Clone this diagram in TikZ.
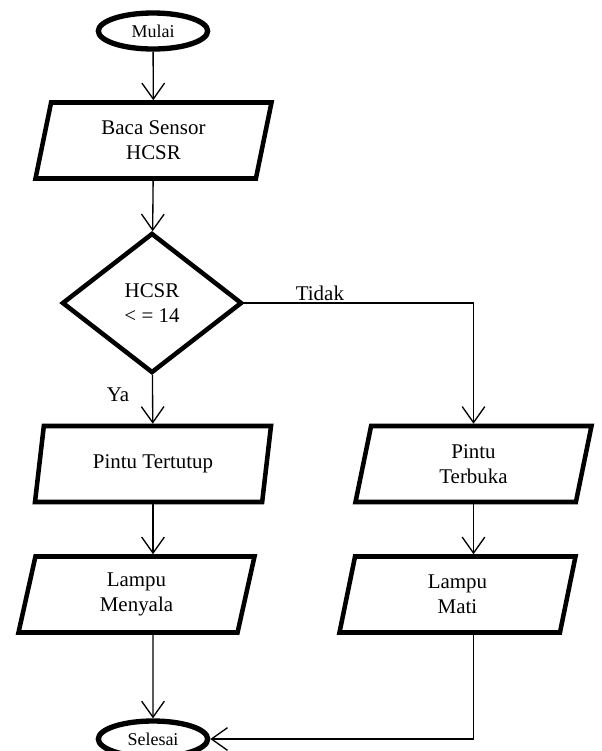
\documentclass[tikz,border=0pt]{standalone}
\usepackage{fontspec}
\setmainfont{Liberation Serif}
\usetikzlibrary{shapes.geometric,arrows.meta}

\tikzset{
    terminal/.style={draw, ellipse, line width=4pt, minimum width=82pt, minimum height=27pt, inner sep=0pt, font=\fontsize{13.5}{15}\selectfont},
    iobox/.style={draw, trapezium, trapezium left angle=72, trapezium right angle=108, trapezium stretches body, line width=3.4pt, minimum width=177pt, minimum height=57pt, align=center, font=\fontsize{15.7}{18.8}\selectfont},
    decision/.style={draw, diamond, line width=3.4pt, minimum width=135pt, minimum height=105pt, inner sep=0pt, align=center, font=\fontsize{15.7}{18.8}\selectfont},
    flow/.style={-{Straight Barb[length=12pt,width=17pt]}, line width=1pt},
    lbl/.style={font=\fontsize{15.7}{18.8}\selectfont, inner sep=1pt}
}

\begin{document}
\begin{tikzpicture}[x=0.75pt, y=-0.75pt]
            \clip (0,0) rectangle (602,751);
            \node[terminal] (mulai) at (153,31) {Mulai};
            \node[iobox] (baca) at (153.5,140.5) {Baca Sensor\\HCSR};
            \node[decision] (cek) at (152,303) {HCSR\\< = 14};
            \node[iobox] (tutup) at (153,464) {Pintu Tertutup};
            \node[iobox] (buka) at (473.5,464) {Pintu\\Terbuka};
            \node[iobox] (nyala) at (136.5,594.5) {Lampu\\Menyala};
            \node[iobox] (mati) at (457.5,594.5) {Lampu\\Mati};
            \node[terminal] (selesai) at (153,739) {Selesai};

            \draw[flow] (mulai) -- (baca); \draw[flow] (baca) -- (cek);
            \draw[flow] (cek) -- node[lbl, left=16pt, pos=0.4] (ya) {Ya} (tutup);
            \draw[flow] (cek.east) -| node[lbl, above, pos=0.165] (tidak) {Tidak} (buka.north);
            \draw[flow] (tutup.south) -- (tutup.south |- nyala.north);
            \draw[flow] (buka.south) -- (buka.south |- mati.north);
            \draw[flow] (tutup.south |- nyala.south) -- (selesai.north);
            \draw[flow] (buka.south |- mati.south) |- (selesai.east);
        \end{tikzpicture}
\end{document}
